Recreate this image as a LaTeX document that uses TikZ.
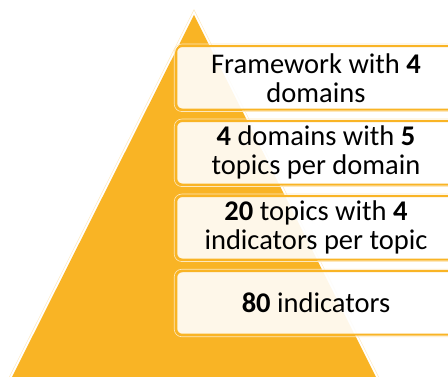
\documentclass[tikz,border=0pt]{standalone}
\usepackage{fontspec}
\setmainfont{Carlito}
\definecolor{pyr}{HTML}{F9B425}
\definecolor{paleline}{HTML}{FDE8BE}
\tikzset{
  stepbox/.style={rectangle,rounded corners=6pt,draw=pyr,line width=2pt,fill=white,fill opacity=.9,text opacity=1,
    minimum width=279.5pt,minimum height=63.5pt,inner sep=0pt,align=center,text=black,
    font=\fontsize{28.5}{29}\selectfont,anchor=center},
  halo/.style={rectangle,rounded corners=7.5pt,draw=paleline,line width=.6pt,minimum width=283.5pt,minimum height=67.5pt,anchor=center,inner sep=0pt}
}
\begin{document}
\begin{tikzpicture}[x=1pt,y=-1pt]
\useasboundingbox (0,0) rectangle (448,377);
\clip (0,0) rectangle (448,377);
\coordinate (apex) at (194,15);
\coordinate (bl) at (10.5,380);
\coordinate (br) at (377.5,380);
\draw[paleline,line width=5.2pt,miter limit=10] (apex) -- (br) -- (bl) -- cycle;
\draw[white,line width=4pt,miter limit=10] (apex) -- (br) -- (bl) -- cycle;
\fill[pyr] (apex) -- (br) -- (bl) -- cycle;
\node[halo] (h1) at (316,77.8) {};
\node[halo] (h2) at (316,152.8) {};
\node[halo] (h3) at (316,227.8) {};
\node[halo] (h4) at (316,303) {};
\node[stepbox] (b1) at (h1) {Framework with \textbf{4}\\domains};
\node[stepbox] (b2) at (h2) {\textbf{4} domains with \textbf{5}\\topics per domain};
\node[stepbox] (b3) at (h3) {\textbf{20} topics with \textbf{4}\\indicators per topic};
\node[stepbox] (b4) at (h4) {\textbf{80} indicators};
\end{tikzpicture}
\end{document}
